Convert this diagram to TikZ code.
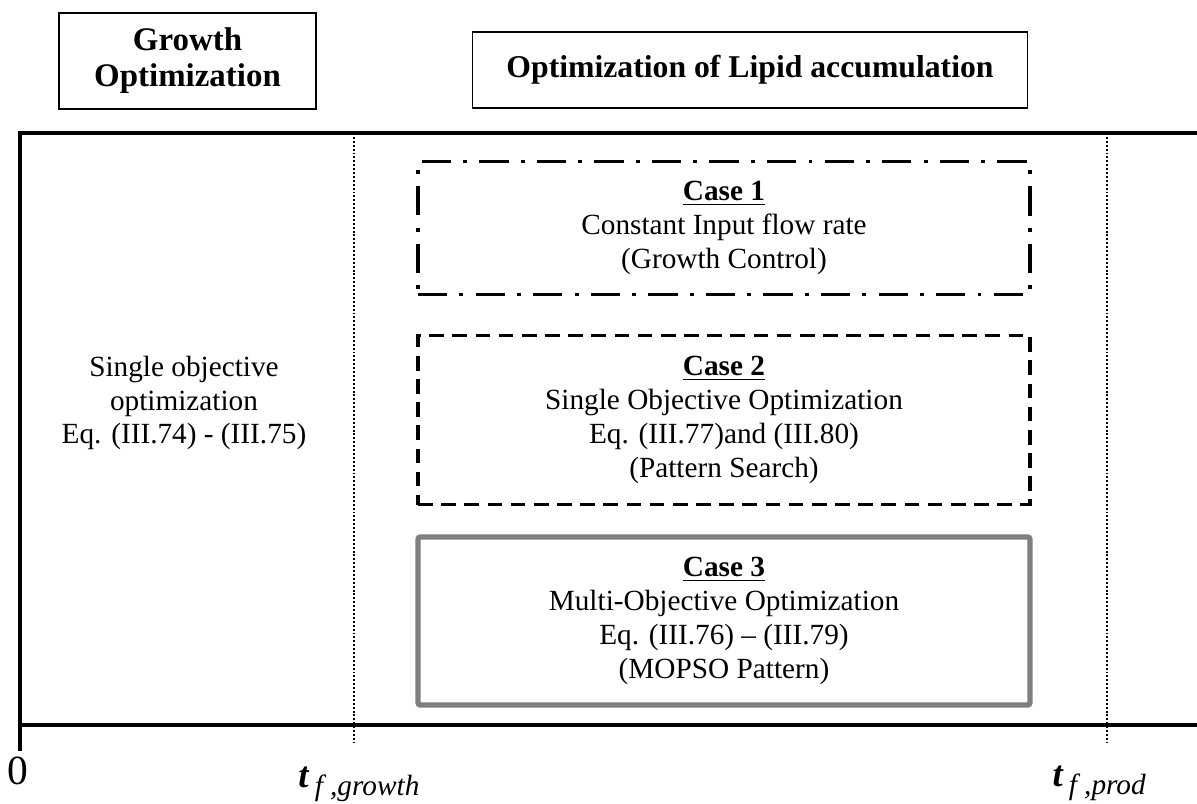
\documentclass[tikz,border=0pt]{standalone}
\usepackage{fontspec}
\setmainfont{Liberation Serif}
\usepackage{tikz}
\usetikzlibrary{positioning,calc}

\begin{document}
\begin{tikzpicture}[x=0.41pt,y=-0.41pt,
  head/.style={draw,line width=0.6pt,align=center,inner sep=0pt,font=\fontsize{13.5}{14.8}\selectfont\bfseries},
  txt/.style={align=center,inner sep=0pt,font=\fontsize{12}{13.9}\selectfont},
  casebox/.style={line width=1.6pt,minimum width=250.9pt,inner sep=0pt},
  frame/.style={line width=1.6pt},
  phase/.style={line width=0.9pt,dash pattern=on 0.8pt off 0.8pt},
  tlab/.style={anchor=base west,inner sep=0pt}]
\useasboundingbox (0,0) rectangle (1197,804);
\node[head,minimum width=105.4pt,minimum height=39.4pt] (growth) at (187.5,61) {Growth\\Optimization};
\node[head,minimum width=227.6pt,minimum height=31.2pt,font=\fontsize{13}{14}\selectfont\bfseries] (lipid) at (750,70) {Optimization of Lipid accumulation};
\draw[frame] (1197,133) -- (20,133) -- (20,751);
\draw[frame] (20,725) -- (1197,725);
\coordinate (g0) at (354,133); \coordinate (g1) at (354,743);
\coordinate (p0) at (1107,133); \coordinate (p1) at (1107,743);
\draw[phase] (g0) -- (g1);
\draw[phase] (p0) -- (p1);
\node[txt] (single) at (184,403) {Single objective\\optimization\\Eq. (III.74) - (III.75)};
\node[casebox,draw,dash pattern=on 12pt off 5pt on 1.6pt off 5pt,minimum height=54.5pt] (case1) at (724,228) {};
\node[txt] (c1txt) at (case1.center) {\textbf{\underline{Case 1}}\\Constant Input flow rate\\(Growth Control)};
\node[casebox,draw,dash pattern=on 6pt off 3.5pt,minimum height=69.3pt] (case2) at (724,420) {};
\node[txt] (c2txt) at (case2.center) {\textbf{\underline{Case 2}}\\Single Objective Optimization\\Eq. (III.77)and (III.80)\\(Pattern Search)};
\node[casebox,draw=black!50,line width=2.2pt,rounded corners=1pt,minimum height=68.9pt] (case3) at (724,621) {};
\node[txt] (c3txt) at (case3.center) {\textbf{\underline{Case 3}}\\Multi-Objective Optimization\\Eq. (III.76) -- (III.79)\\(MOPSO Pattern)};
\node[font=\fontsize{17}{17}\selectfont] (zero) at (18,771) {0};
\node[tlab] (tgrowth) at (298,787) {\fontsize{15}{15}\selectfont\bfseries\itshape t\hspace{2.5pt}\raisebox{-3.3pt}{\fontsize{12}{12}\selectfont\mdseries\itshape f ,growth}};
\node[tlab] (tprod) at (1052,786) {\fontsize{15}{15}\selectfont\bfseries\itshape t\hspace{2.5pt}\raisebox{-3.3pt}{\fontsize{12}{12}\selectfont\mdseries\itshape f ,prod}};
\end{tikzpicture}
\end{document}
